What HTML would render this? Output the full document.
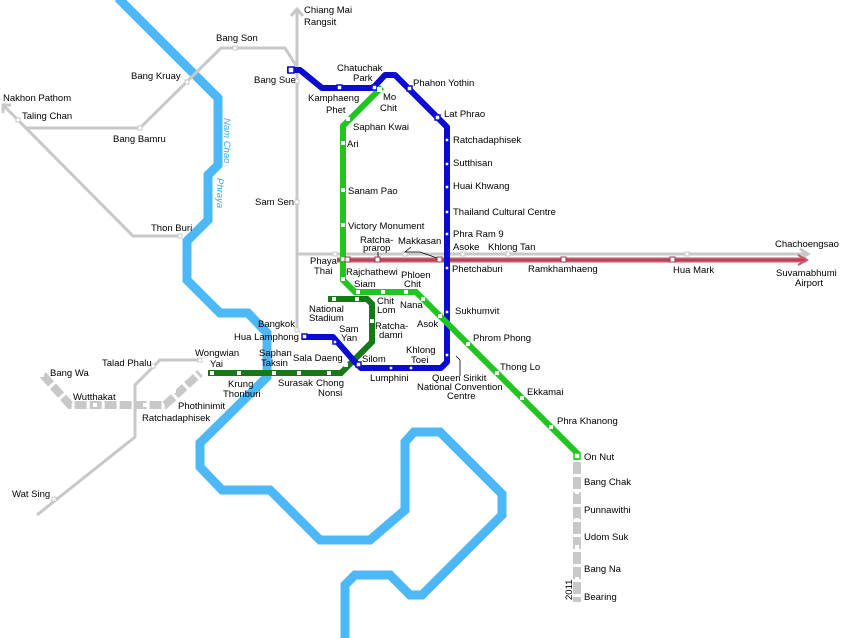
<!DOCTYPE html>
<html><head><meta charset="utf-8"><style>
html,body{margin:0;padding:0;background:#fff;}
svg{display:block;}
text{font-family:"Liberation Sans",sans-serif;font-size:9.5px;fill:#000;}
</style></head><body>
<svg width="844" height="638" viewBox="0 0 844 638" xmlns="http://www.w3.org/2000/svg">
<!-- river -->
<polyline fill="none" stroke="#4db8f8" stroke-width="9" stroke-linejoin="miter" points="118,-2 218,98 218,165 208,175 208,220 187,241 187,280 220,313 248,313 267,333 267,377 200,443 200,467 222,490 270,490 320,540 370,540 405,510 405,442 414,432 440,432 502,494 502,515 422,595 410,595 390,575 355,575 345,585 345,640"/>
<text x="0" y="0" transform="translate(224,118) rotate(90)" style="fill:#3ba8ea;font-style:italic">Nam Chao</text>
<text x="0" y="0" transform="translate(217,178) rotate(90)" style="fill:#3ba8ea;font-style:italic">Phraya</text>
<!-- grey lines -->
<g fill="none" stroke="#c8c8c8" stroke-width="3">
<line x1="297" y1="10" x2="297" y2="330"/>
<polyline points="291,16 297,9 303,16"/>
<line x1="297" y1="254" x2="806" y2="254"/>
<polyline points="800,249 808,254 800,259"/>
<polyline points="297,67 285,48 221,48 140,128 27,128"/>
<polyline points="3,105 18,120 133,236 180,236"/>
<polyline points="3,113 3,105 11,105"/>
<polyline points="200,360 160,360 135,385 135,437 37,515"/>
</g>
<g fill="none" stroke="#c8c8c8" stroke-width="8" stroke-dasharray="12,3">
<polyline points="43,375 70,405 165,405 200,373"/>
<line x1="577" y1="462" x2="577" y2="602"/>
</g>
<!-- airport link -->
<line x1="337" y1="260" x2="806" y2="260" stroke="#c85a6e" stroke-width="5"/>
<line x1="337" y1="260" x2="806" y2="260" stroke="#a0304a" stroke-width="1"/>
<polyline points="798,255 807,260 798,265" fill="none" stroke="#c85a6e" stroke-width="2"/>
<!-- dark green silom -->
<polyline fill="none" stroke="#157a15" stroke-width="6" points="328,299 367,299 372,304 372,342 341,373 208,373"/>
<!-- blue MRT -->
<polyline fill="none" stroke="#0a0ad0" stroke-width="6" stroke-linejoin="round" points="287,70 300,70 322,88 373,88 385,75 395,75 447,127 447,362 441,368 361,368 355,362 333,337 302,337"/>
<!-- light green -->
<polyline fill="none" stroke="#22c422" stroke-width="6" points="382,87 343,126 343,280 355,292 416,292 577,453 577,460"/>
<!-- stations -->
<g fill="#fff" stroke="#0a0ad0" stroke-width="1.5">
<rect x="288" y="67" width="6" height="6"/><rect x="337" y="85" width="5" height="5"/><rect x="372" y="85" width="5" height="5"/>
<rect x="407" y="86" width="5" height="5"/><rect x="435" y="115" width="5" height="5"/>
<rect x="445" y="138" width="4" height="4"/><rect x="445" y="162" width="4" height="4"/><rect x="445" y="185" width="4" height="4"/><rect x="445" y="210" width="4" height="4"/><rect x="445" y="232" width="4" height="4"/><rect x="445" y="266" width="4" height="4"/><rect x="445" y="310" width="4" height="4"/><rect x="445" y="353" width="4" height="4"/>
<rect x="409" y="366" width="4" height="4"/><rect x="389" y="366" width="4" height="4"/><rect x="356" y="362" width="5" height="5"/><rect x="333" y="340" width="4" height="4"/><rect x="302" y="334" width="5" height="5"/>
</g>
<g fill="#fff" stroke="none">
<rect x="377" y="87" width="5" height="5"/><rect x="346" y="117" width="4" height="4"/><rect x="341" y="141" width="4" height="4"/><rect x="341" y="188" width="4" height="4"/><rect x="341" y="223" width="4" height="4"/><rect x="341" y="257" width="4" height="4"/><rect x="341" y="277" width="4" height="4"/>
<rect x="356" y="290" width="4" height="4"/><rect x="381" y="290" width="4" height="4"/><rect x="404" y="290" width="4" height="4"/><rect x="421" y="297" width="4" height="4"/><rect x="438" y="314" width="4" height="4"/><rect x="466" y="342" width="4" height="4"/><rect x="495" y="371" width="4" height="4"/><rect x="520" y="396" width="4" height="4"/><rect x="549" y="425" width="4" height="4"/>
<rect x="332" y="297" width="4" height="4"/><rect x="355" y="297" width="4" height="4"/><rect x="370" y="319" width="4" height="4"/><rect x="344" y="363" width="4" height="4"/><rect x="327" y="371" width="4" height="4"/><rect x="297" y="371" width="4" height="4"/><rect x="272" y="371" width="4" height="4"/><rect x="237" y="371" width="4" height="4"/><rect x="210" y="371" width="4" height="4"/>
<rect x="575" y="490" width="4" height="4"/><rect x="575" y="518" width="4" height="4"/><rect x="575" y="545" width="4" height="4"/><rect x="575" y="577" width="4" height="4"/><rect x="575" y="605" width="4" height="4"/>
<rect x="93" y="403" width="4" height="4"/><rect x="143" y="403" width="4" height="4"/><rect x="172" y="389" width="4" height="4"/><rect x="40" y="373" width="4" height="4"/>
</g>
<rect x="574" y="453" width="6" height="6" fill="#fff" stroke="#22c422" stroke-width="1.5"/>
<g fill="#fff" stroke="#c8c8c8" stroke-width="1">
<rect x="233" y="46" width="4" height="4"/><rect x="185" y="80" width="4" height="4"/><rect x="295" y="79" width="4" height="4"/><rect x="16" y="118" width="4" height="4"/><rect x="138" y="126" width="4" height="4"/><rect x="178" y="234" width="4" height="4"/><rect x="295" y="200" width="4" height="4"/><rect x="295" y="328" width="4" height="4"/>
<rect x="333" y="252" width="4" height="4"/><rect x="403" y="252" width="4" height="4"/><rect x="461" y="252" width="4" height="4"/><rect x="506" y="252" width="4" height="4"/><rect x="685" y="252" width="4" height="4"/>
<rect x="198" y="358" width="4" height="4"/><rect x="151" y="364" width="4" height="4"/><rect x="52" y="497" width="4" height="4"/>
</g>
<g fill="#fff" stroke="#a0304a" stroke-width="1">
<rect x="345" y="257" width="5" height="5"/><rect x="375" y="257" width="5" height="5"/><rect x="437" y="257" width="5" height="5"/><rect x="561" y="257" width="5" height="5"/><rect x="670" y="257" width="5" height="5"/>
</g>
<g fill="none" stroke="#000" stroke-width="0.8">
<polyline points="378,257 378,252"/><polyline points="411,247 405,252 420,252 437,258"/><polyline points="456,356 460,360 460,376"/>
</g>
<!-- labels -->
<text x="304" y="13">Chiang Mai</text><text x="304" y="25">Rangsit</text>
<text x="216" y="41">Bang Son</text><text x="131" y="79">Bang Kruay</text><text x="254" y="83">Bang Sue</text>
<text x="337" y="71">Chatuchak</text><text x="353" y="81">Park</text>
<text x="308" y="101">Kamphaeng</text><text x="326" y="113">Phet</text>
<text x="383" y="100">Mo</text><text x="380" y="111">Chit</text>
<text x="413" y="86">Phahon Yothin</text><text x="444" y="117">Lat Phrao</text>
<text x="453" y="143">Ratchadaphisek</text><text x="453" y="166">Sutthisan</text><text x="453" y="189">Huai Khwang</text>
<text x="453" y="215">Thailand Cultural Centre</text><text x="453" y="237">Phra Ram 9</text>
<text x="453" y="250">Asoke</text><text x="488" y="250">Khlong Tan</text>
<text x="775" y="247">Chachoengsao</text><text x="452" y="272">Phetchaburi</text><text x="528" y="272">Ramkhamhaeng</text>
<text x="673" y="273">Hua Mark</text><text x="776" y="276">Suvamabhumi</text><text x="795" y="286">Airport</text>
<text x="3" y="101">Nakhon Pathom</text><text x="22" y="119">Taling Chan</text><text x="113" y="142">Bang Bamru</text>
<text x="353" y="130">Saphan Kwai</text><text x="347" y="147">Ari</text><text x="255" y="205">Sam Sen</text>
<text x="348" y="194">Sanam Pao</text><text x="348" y="229">Victory Monument</text><text x="151" y="231">Thon Buri</text>
<text x="360" y="243">Ratcha-</text><text x="363" y="251">prarop</text><text x="398" y="244">Makkasan</text>
<text x="310" y="264">Phaya</text><text x="314" y="274">Thai</text><text x="346" y="275">Rajchathewi</text>
<text x="354" y="287">Siam</text><text x="401" y="278">Phloen</text><text x="404" y="287">Chit</text>
<text x="309" y="312">National</text><text x="309" y="321">Stadium</text>
<text x="377" y="304">Chit</text><text x="377" y="313">Lom</text><text x="400" y="308">Nana</text>
<text x="455" y="314">Sukhumvit</text><text x="417" y="327">Asok</text>
<text x="258" y="327">Bangkok</text><text x="234" y="340">Hua Lamphong</text>
<text x="339" y="332">Sam</text><text x="341" y="341">Yan</text>
<text x="375" y="329">Ratcha-</text><text x="379" y="338">damri</text>
<text x="473" y="341">Phrom Phong</text><text x="102" y="366">Talad Phalu</text>
<text x="195" y="356">Wongwian</text><text x="210" y="367">Yai</text>
<text x="259" y="356">Saphan</text><text x="261" y="366">Taksin</text>
<text x="293" y="361">Sala Daeng</text><text x="406" y="353">Khlong</text><text x="411" y="363">Toei</text>
<text x="362" y="362">Silom</text><text x="50" y="376">Bang Wa</text><text x="500" y="370">Thong Lo</text>
<text x="228" y="387">Krung</text><text x="223" y="397">Thonburi</text><text x="278" y="386">Surasak</text>
<text x="316" y="386">Chong</text><text x="318" y="396">Nonsi</text><text x="370" y="381">Lumphini</text>
<text x="432" y="381">Queen Sirikit</text><text x="417" y="390">National Convention</text><text x="447" y="399">Centre</text>
<text x="73" y="400">Wutthakat</text><text x="178" y="409">Phothinimit</text><text x="527" y="395">Ekkamai</text>
<text x="142" y="421">Ratchadaphisek</text><text x="557" y="424">Phra Khanong</text>
<text x="584" y="460">On Nut</text><text x="584" y="485">Bang Chak</text><text x="584" y="513">Punnawithi</text>
<text x="584" y="540">Udom Suk</text><text x="584" y="572">Bang Na</text><text x="584" y="600">Bearing</text>
<text x="0" y="0" transform="translate(572,600) rotate(-90)">2011</text>
<text x="12" y="497">Wat Sing</text>
</svg>
</body></html>
